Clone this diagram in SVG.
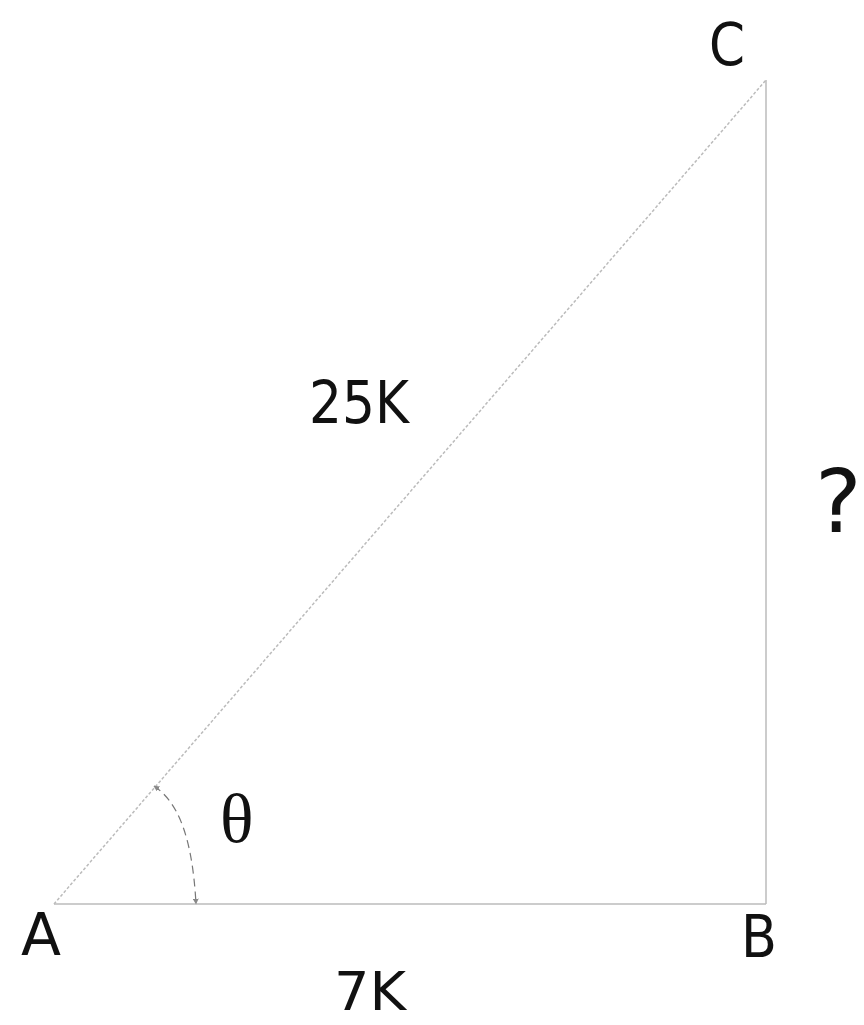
<svg xmlns="http://www.w3.org/2000/svg" width="864" height="1025" viewBox="0 0 864 1025">
<style>
.lbl{font-family:"DejaVu Sans","Liberation Sans",sans-serif;font-size:58px;fill:#111}
.edge{stroke:#bbb;stroke-width:1.5;fill:none}
</style>
<defs>
<marker id="ah" viewBox="0 0 10 10" refX="9" refY="5" markerWidth="5" markerHeight="5" orient="auto-start-reverse"><path d="M0,0 L10,5 L0,10 z" fill="#888"/></marker>
</defs>
<rect width="864" height="1025" fill="#fff"/>
<g id="connectors">
<line class="edge" x1="54" y1="904" x2="766" y2="904"/>
<line class="edge" x1="766" y1="904" x2="766" y2="80"/>
<line class="edge" x1="54" y1="904" x2="766" y2="80" stroke="#999" stroke-dasharray="3,2"/>
<path d="M154,786 C175,800 192,830 196,904" fill="none" stroke="#777" stroke-width="1.2" stroke-dasharray="8,5" marker-start="url(#ah)" marker-end="url(#ah)"/>
</g>
<g id="A"><text class="lbl" x="21" y="955" textLength="40" lengthAdjust="spacingAndGlyphs">A</text></g>
<g id="B"><text class="lbl" x="741" y="957" textLength="36" lengthAdjust="spacingAndGlyphs">B</text></g>
<g id="C"><text class="lbl" x="709" y="65" textLength="36" lengthAdjust="spacingAndGlyphs">C</text></g>
<g id="labels">
<text class="lbl" x="309" y="423" textLength="100" lengthAdjust="spacingAndGlyphs">25K</text>
<text class="lbl" x="334" y="1010" textLength="72" lengthAdjust="spacingAndGlyphs" style="font-size:54px">7K</text>
<text x="815" y="532" style="font-family:'DejaVu Sans',sans-serif;font-size:88px;fill:#111">?</text>
<text x="220" y="842" style="font-family:'Liberation Serif',serif;font-size:70px;fill:#111">θ</text>
</g>
</svg>
